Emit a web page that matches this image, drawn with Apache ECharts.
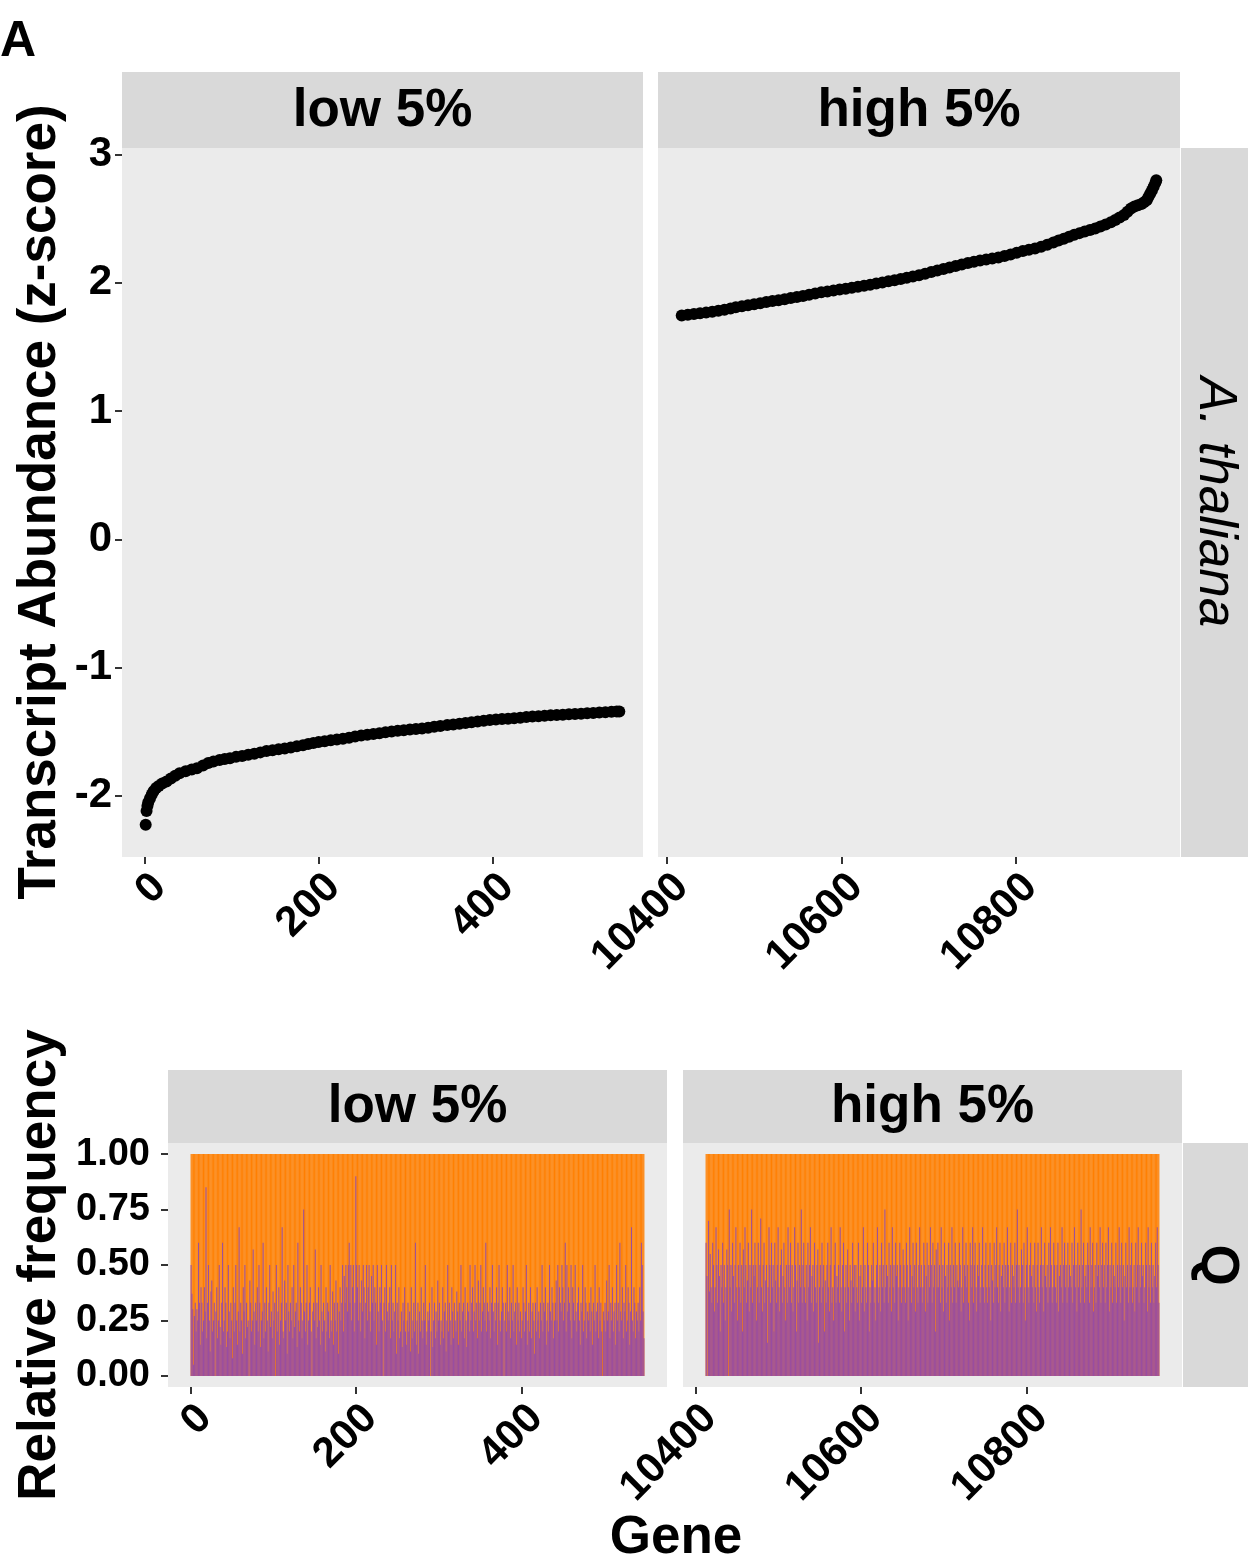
<!DOCTYPE html>
<html><head><meta charset="utf-8">
<script src="https://cdn.jsdelivr.net/npm/echarts@6/dist/echarts.min.js"></script>
<style>html,body{margin:0;padding:0;background:#fff}#c{width:1248px;height:1564px}</style>
</head><body><div id="c"></div>
<script>
// ---- Top: transcript abundance (z-score) by gene rank ----
const lowGene = [1,2,3,4,6,8,10,13,16,20,25,30,35,40,47,54,60,67,73,79,86,92,98,105,112,119,126,133,140,147,154,161,168,175,182,188,194,200,207,214,221,228,235,242,249,256,263,270,277,284,291,298,305,312,319,326,333,340,348,355,362,369,376,383,390,397,404,411,418,425,432,439,446,453,460,467,474,481,488,495,502,509,516,523,530,537,543,546];
const lowZ = [-2.227,-2.12,-2.08,-2.05,-2.02,-1.99,-1.965,-1.94,-1.925,-1.905,
-1.89,-1.865,-1.845,-1.825,-1.81,-1.795,-1.785,-1.765,-1.745,-1.733,
-1.722,-1.714,-1.707,-1.697,-1.69,-1.68,-1.672,-1.662,-1.652,-1.645,
-1.638,-1.631,-1.624,-1.615,-1.606,-1.596,-1.588,-1.582,-1.576,-1.567,
-1.562,-1.555,-1.547,-1.538,-1.53,-1.524,-1.518,-1.512,-1.505,-1.499,
-1.493,-1.489,-1.484,-1.479,-1.475,-1.469,-1.462,-1.456,-1.449,-1.444,
-1.438,-1.432,-1.427,-1.421,-1.416,-1.41,-1.405,-1.401,-1.399,-1.395,
-1.391,-1.387,-1.383,-1.38,-1.376,-1.373,-1.37,-1.368,-1.365,-1.362,
-1.36,-1.357,-1.354,-1.351,-1.349,-1.346,-1.344,-1.343];
const highGene = [10417,10424,10431,10438,10445,10452,10459,10466,10473,10479,10486,10493,10500,10507,10514,10521,10528,10535,10542,10549,10556,10563,10570,10577,10584,10591,10598,10605,10612,10619,10626,10633,10640,10647,10654,10661,10668,10675,10682,10689,10696,10703,10710,10717,10724,10731,10738,10745,10752,10759,10766,10773,10780,10787,10794,10801,10808,10815,10822,10829,10836,10843,10849,10855,10861,10867,10873,10879,10885,10891,10897,10903,10909,10914,10919,10924,10928,10932,10936,10940,10944,10947,10950,10952,10954,10956,10958,10960,10961];
const highZ = [1.745,1.752,1.758,1.763,1.768,1.775,1.782,1.79,1.8,1.81,
1.818,1.826,1.834,1.842,1.85,1.858,1.865,1.872,1.882,1.89,
1.898,1.908,1.918,1.926,1.932,1.94,1.948,1.955,1.962,1.97,
1.977,1.985,1.995,2.003,2.012,2.02,2.03,2.04,2.05,2.06,
2.072,2.085,2.097,2.108,2.12,2.132,2.143,2.155,2.165,2.175,
2.183,2.19,2.198,2.21,2.222,2.235,2.248,2.258,2.268,2.282,
2.298,2.315,2.33,2.345,2.36,2.375,2.388,2.4,2.412,2.425,
2.44,2.455,2.472,2.49,2.51,2.53,2.555,2.58,2.595,2.605,
2.615,2.628,2.645,2.67,2.695,2.72,2.75,2.78,2.8];

// ---- Bottom: relative frequency (purple share; orange fills the rest up to 1) ----
const lowStartGene = 1;
const lowPurple = [
.50,.37,.30,.05,.27,.33,.20,.30,.25,.60,.33,.14,.40,.33,.20,.25,.40,.29,.85,.17,
.33,.50,.25,.11,.38,.43,.20,.25,.33,.00,.29,.40,.17,.25,.50,.22,.14,.33,.60,.20,
.25,.40,.33,.13,.20,.50,.29,.17,.33,.25,.08,.40,.20,.33,.50,.25,.14,.29,.67,.20,
.33,.25,.10,.40,.29,.50,.17,.33,.22,.25,.00,.43,.33,.20,.25,.57,.29,.14,.33,.25,
.40,.20,.50,.33,.13,.25,.29,.60,.17,.33,.20,.40,.25,.11,.33,.50,.22,.29,.17,.38,
.25,.33,.00,.50,.20,.29,.40,.14,.25,.33,.67,.20,.17,.43,.25,.33,.10,.50,.29,.20,
.33,.25,.40,.17,.50,.22,.29,.33,.13,.60,.25,.20,.40,.33,.17,.25,.75,.29,.20,.33,
.50,.14,.25,.33,.40,.20,.00,.29,.33,.25,.57,.17,.33,.22,.40,.25,.14,.50,.29,.20,
.33,.25,.11,.40,.20,.33,.29,.17,.50,.25,.20,.38,.14,.33,.25,.43,.20,.33,.10,.29,
.40,.25,.33,.50,.20,.45,.33,.50,.40,.29,.50,.60,.33,.50,.25,.40,.50,.20,.33,.90,
.50,.40,.25,.50,.33,.20,.43,.29,.50,.40,.17,.33,.50,.25,.40,.50,.29,.20,.45,.33,
.50,.25,.40,.33,.14,.50,.29,.20,.40,.33,.50,.25,.00,.33,.40,.20,.50,.29,.25,.33,
.40,.17,.50,.25,.33,.20,.29,.50,.10,.33,.25,.40,.17,.20,.29,.13,.33,.25,.40,.20,
.14,.25,.33,.20,.29,.11,.40,.17,.25,.33,.20,.60,.14,.25,.33,.10,.29,.20,.40,.25,
.17,.33,.25,.50,.14,.20,.29,.25,.33,.00,.20,.40,.13,.25,.33,.17,.29,.20,.43,.25,
.33,.14,.25,.20,.40,.17,.29,.33,.11,.25,.50,.20,.33,.25,.14,.40,.29,.17,.33,.25,
.20,.38,.29,.14,.33,.25,.50,.20,.29,.33,.17,.40,.25,.13,.33,.29,.20,.50,.25,.33,
.40,.20,.29,.50,.25,.33,.17,.43,.25,.33,.50,.20,.29,.40,.33,.25,.60,.20,.33,.29,
.25,.40,.17,.33,.50,.29,.20,.33,.25,.40,.14,.33,.50,.25,.20,.29,.40,.33,.00,.25,
.33,.20,.50,.29,.25,.40,.17,.33,.25,.50,.20,.29,.33,.14,.40,.25,.33,.20,.29,.17,
.25,.40,.33,.20,.29,.50,.14,.25,.33,.20,.40,.17,.29,.33,.25,.10,.33,.20,.40,.25,
.29,.17,.33,.25,.50,.20,.33,.29,.40,.14,.25,.33,.20,.50,.29,.25,.40,.33,.17,.25,
.33,.43,.25,.50,.20,.40,.33,.29,.50,.40,.25,.33,.60,.20,.50,.29,.40,.33,.25,.50,
.17,.40,.33,.25,.50,.29,.20,.33,.40,.25,.14,.33,.29,.50,.20,.25,.40,.33,.17,.29,
.25,.33,.20,.40,.29,.14,.33,.25,.50,.20,.29,.33,.17,.40,.25,.33,.20,.00,.29,.25,
.33,.20,.43,.25,.29,.50,.17,.33,.25,.40,.20,.29,.33,.14,.50,.25,.33,.20,.60,.29,
.25,.40,.17,.33,.29,.50,.20,.25,.40,.33,.14,.29,.67,.25,.20,.40,.33,.17,.29,.25,
.33,.20,.40,.25,.60,.50,.29,.17];
const highStartGene = 10413;
const highPurple = [
.60,.45,.00,.70,.38,.55,.40,.33,.60,.50,.29,.40,.67,.50,.33,.57,.45,.20,.50,.40,
.60,.33,.50,.25,.40,.57,.50,.00,.75,.40,.50,.29,.60,.45,.33,.50,.67,.40,.25,.50,
.40,.60,.33,.50,.20,.57,.40,.67,.50,.33,.43,.60,.29,.50,.40,.75,.33,.50,.45,.60,
.50,.25,.40,.60,.33,.50,.71,.40,.29,.50,.60,.33,.43,.50,.15,.40,.67,.50,.33,.60,
.40,.50,.20,.60,.43,.33,.50,.67,.40,.29,.50,.57,.33,.45,.60,.40,.25,.50,.33,.67,
.50,.40,.60,.33,.50,.29,.40,.67,.50,.20,.43,.60,.33,.50,.40,.75,.33,.50,.60,.40,
.33,.50,.25,.60,.40,.50,.67,.33,.45,.50,.29,.60,.40,.33,.50,.57,.15,.40,.50,.33,
.60,.40,.50,.20,.43,.33,.50,.60,.40,.29,.50,.67,.33,.40,.25,.50,.60,.33,.45,.40,
.50,.33,.67,.40,.29,.50,.60,.20,.40,.50,.33,.57,.40,.25,.50,.43,.33,.60,.40,.50,
.29,.50,.40,.33,.60,.25,.45,.50,.33,.40,.67,.29,.50,.40,.33,.60,.50,.20,.40,.33,
.50,.43,.60,.33,.40,.25,.50,.67,.33,.40,.50,.29,.60,.40,.50,.33,.75,.40,.50,.45,
.33,.60,.40,.50,.29,.67,.40,.50,.33,.60,.45,.50,.25,.40,.60,.50,.33,.40,.57,.50,
.40,.33,.60,.50,.25,.40,.67,.50,.33,.45,.60,.40,.50,.29,.60,.40,.33,.50,.67,.40,
.50,.33,.40,.60,.50,.29,.45,.60,.33,.50,.40,.67,.50,.33,.60,.40,.50,.20,.57,.40,
.60,.40,.50,.33,.67,.40,.50,.29,.60,.45,.33,.50,.40,.60,.25,.50,.40,.67,.33,.50,
.40,.60,.33,.50,.43,.40,.60,.50,.29,.40,.67,.33,.50,.45,.60,.40,.50,.33,.25,.60,
.50,.40,.67,.33,.50,.60,.40,.29,.50,.45,.60,.33,.40,.50,.67,.40,.33,.50,.60,.40,
.33,.50,.40,.60,.25,.50,.43,.33,.60,.40,.50,.67,.40,.33,.50,.60,.29,.45,.50,.40,
.60,.33,.50,.40,.67,.50,.29,.40,.60,.33,.50,.45,.40,.60,.33,.50,.75,.40,.50,.33,
.40,.57,.50,.33,.60,.40,.25,.50,.67,.40,.33,.50,.60,.45,.40,.50,.33,.60,.40,.29,
.50,.60,.40,.33,.50,.67,.40,.50,.29,.60,.45,.40,.50,.33,.60,.40,.67,.50,.33,.40,
.60,.50,.40,.33,.50,.60,.29,.45,.50,.40,.67,.33,.50,.60,.40,.50,.33,.60,.40,.50,
.45,.40,.60,.33,.50,.67,.40,.50,.29,.60,.40,.50,.33,.75,.40,.50,.60,.33,.45,.50,
.40,.60,.50,.33,.67,.40,.50,.60,.29,.40,.50,.33,.60,.45,.50,.40,.67,.33,.50,.60,
.40,.50,.33,.60,.40,.50,.67,.29,.50,.40,.60,.33,.50,.45,.40,.60,.33,.50,.40,.67,
.50,.33,.60,.40,.50,.25,.45,.60,.40,.50,.33,.67,.40,.50,.60,.33,.40,.50,.29,.60,
.40,.50,.67,.33,.50,.40,.60,.45,.50,.33,.40,.60,.50,.29,.67,.40,.50,.33,.60,.40,
.50,.33,.45,.60,.40,.67,.50,.33];
const totalFreq = 1;

// ---- Tick labels ----
const zTicks = [-2,-1,0,1,2,3];
const lowXTicks = [0,200,400];
const highXTicks = [10400,10600,10800];
const freqTicks = [0,0.25,0.5,0.75,1];

const FONT = "'Liberation Sans', Arial, Helvetica, sans-serif";
const PURPLE = '#984EA3', ORANGE = '#FF7F00';

function xAx(gi, min, max, ticks, fs, margin) {
  return {type:'value', gridIndex:gi, min, max, position:'bottom',
    axisLine:{show:false, onZero:false}, splitLine:{show:false},
    axisTick:{show:true, length:7, lineStyle:{color:'#333', width:2}, customValues:ticks},
    axisLabel:{show:true, customValues:ticks, rotate:45, align:'right', verticalAlign:'top', margin:margin,
      formatter:v=>String(v), fontFamily:FONT, fontWeight:'bold', fontSize:fs, color:'#000'}};
}
function yAx(gi, min, max, ticks, fs, showLab, fmt, margin) {
  return {type:'value', gridIndex:gi, min, max, position:'left',
    axisLine:{show:false, onZero:false}, splitLine:{show:false},
    axisTick:{show:showLab, length:7, lineStyle:{color:'#333', width:2}, customValues:ticks},
    axisLabel:{show:showLab, customValues:ticks, margin:margin, formatter:fmt, fontFamily:FONT, fontWeight:'bold', fontSize:fs, color:'#000'}};
}
const gridBase = {show:true, backgroundColor:'#EBEBEB', borderWidth:0};

const lowBarsO = lowPurple.map((p,i)=>[lowStartGene+i, totalFreq]);
const lowBarsP = lowPurple.map((p,i)=>[lowStartGene+i, p]);
const highBarsO = highPurple.map((p,i)=>[highStartGene+i, totalFreq]);
const highBarsP = highPurple.map((p,i)=>[highStartGene+i, p]);

function strip(x,y,w,h){return {type:'rect', shape:{x,y,width:w,height:h}, style:{fill:'#D9D9D9'}, silent:true};}
function txt(t,x,y,fs,opt){opt=opt||{};return {type:'text', x, y, rotation:opt.rot||0, silent:true,
  style:{text:t, font:(opt.italic?'italic ':'')+(opt.bold===false?'normal ':'bold ')+fs+'px '+FONT, fill:'#000',
    align:opt.align||'center', verticalAlign:'middle', textAlign:opt.align||'center', textVerticalAlign:'middle'}};}

const barCommon = {type:'bar', barCategoryGap:'0%', barGap:'-100%', large:false};

const option = {
  animation:false,
  grid:[
    Object.assign({left:122, top:148, width:521, height:709}, gridBase),
    Object.assign({left:658, top:148, width:522, height:709}, gridBase),
    Object.assign({left:168, top:1143, width:499, height:244}, gridBase),
    Object.assign({left:683, top:1143, width:499, height:244}, gridBase)
  ],
  xAxis:[
    xAx(0, -26.25, 573.25, lowXTicks, 42, 9),
    xAx(1, 10389.8, 10988.2, highXTicks, 42, 9),
    xAx(2, -26.9, 575.9, lowXTicks, 42, 10),
    xAx(3, 10385.1, 10987.9, highXTicks, 42, 10)
  ],
  yAxis:[
    yAx(0, -2.478, 3.052, zTicks, 42, true, null, 10),
    yAx(1, -2.478, 3.052, zTicks, 42, false, null, 10),
    yAx(2, -0.05, 1.05, freqTicks, 38, true, v=>v.toFixed(2), 18),
    yAx(3, -0.05, 1.05, freqTicks, 38, false, null, 18)
  ],
  series:[
    {type:'scatter', xAxisIndex:0, yAxisIndex:0, symbolSize:12, itemStyle:{color:'#000', opacity:1},
      data:lowGene.map((g,i)=>[g, lowZ[i]])},
    {type:'scatter', xAxisIndex:1, yAxisIndex:1, symbolSize:12, itemStyle:{color:'#000', opacity:1},
      data:highGene.map((g,i)=>[g, highZ[i]])},
    Object.assign({xAxisIndex:2, yAxisIndex:2, itemStyle:{color:ORANGE}, data:lowBarsO}, barCommon),
    Object.assign({xAxisIndex:2, yAxisIndex:2, itemStyle:{color:PURPLE}, data:lowBarsP}, barCommon),
    Object.assign({xAxisIndex:3, yAxisIndex:3, itemStyle:{color:ORANGE}, data:highBarsO}, barCommon),
    Object.assign({xAxisIndex:3, yAxisIndex:3, itemStyle:{color:PURPLE}, data:highBarsP}, barCommon)
  ],
  graphic:[
    strip(122,72,521,76), strip(658,72,522,76), strip(1181,148,67,709),
    strip(168,1070,499,73), strip(683,1070,499,73), strip(1183,1143,65,244),
    txt('low 5%', 382.5, 111, 53), txt('high 5%', 919, 111, 53),
    txt('A. thaliana', 1215, 502, 53, {italic:true, bold:false, rot:-Math.PI/2}),
    txt('low 5%', 417.5, 1107, 53), txt('high 5%', 932.5, 1107, 53),
    txt('Q', 1217, 1265, 53, {rot:-Math.PI/2}),
    txt('A', 0, 42, 50, {align:'left'}),
    txt('Transcript Abundance (z-score)', 40, 502, 53, {rot:Math.PI/2}),
    txt('Relative frequency', 40, 1265, 53, {rot:Math.PI/2}),
    txt('Gene', 676, 1538, 53)
  ]
};
const chart = echarts.init(document.getElementById('c'), null, {renderer:'canvas'});
chart.setOption(option);
</script>
</body></html>
